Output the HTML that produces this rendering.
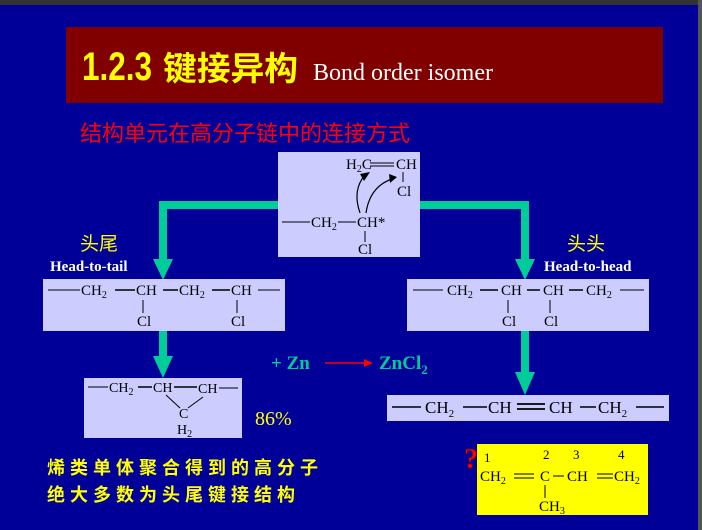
<!DOCTYPE html>
<html><head><meta charset="utf-8"><style>
html,body{margin:0;padding:0;background:#000099;}
svg{display:block}
.s{font-family:"Liberation Serif",serif;font-size:15px;fill:#000}
.sub{font-size:10px}
</style></head><body>
<svg width="702" height="530" viewBox="0 0 702 530" xmlns="http://www.w3.org/2000/svg">
<rect x="0" y="0" width="702" height="530" fill="#000099"/>
<rect x="0" y="0" width="702" height="5" fill="#333"/>
<rect x="698" y="0" width="4" height="530" fill="#555"/>
<!-- title -->
<rect x="66" y="27" width="597" height="76" fill="#800000"/>
<text x="82" y="80" font-family="Liberation Sans,sans-serif" font-size="40" font-weight="bold" fill="#ffff00" textLength="70" lengthAdjust="spacingAndGlyphs">1.2.3</text>
<text x="163" y="80" font-family="'Noto Sans CJK SC',sans-serif" font-size="33" font-weight="bold" fill="#ffff00" textLength="135" lengthAdjust="spacingAndGlyphs">键接异构</text>
<text x="313" y="80" font-family="Liberation Serif,serif" font-size="24" fill="#fff">Bond order isomer</text>
<text x="80" y="141" font-family="'Noto Sans CJK SC',sans-serif" font-size="22" fill="#ff0000">结构单元在高分子链中的连接方式</text>

<!-- green connectors -->
<g fill="#00cc99">
<rect x="159" y="201" width="120" height="8"/>
<rect x="159" y="201" width="8" height="62"/>
<polygon points="153,259 173,259 163,280"/>
<rect x="419" y="201" width="110" height="8"/>
<rect x="521" y="201" width="8" height="62"/>
<polygon points="515,259 535,259 525,280"/>
<rect x="159" y="330" width="8" height="30"/>
<polygon points="153,356 173,356 163,378"/>
<rect x="521" y="330" width="8" height="46"/>
<polygon points="515,372 535,372 525,395"/>
</g>

<!-- top box -->
<rect x="278" y="152" width="142" height="105" fill="#ccccff"/>
<g class="s">
<text x="346" y="169">H<tspan class="sub" dy="3">2</tspan><tspan dy="-3">C</tspan></text>
<line x1="370" y1="163" x2="394" y2="163" stroke="#000"/><line x1="370" y1="166" x2="394" y2="166" stroke="#000"/>
<text x="396" y="169">CH</text>
<line x1="403" y1="172" x2="403" y2="182" stroke="#000"/>
<text x="397" y="196">Cl</text>
<line x1="282" y1="222" x2="310" y2="222" stroke="#000"/>
<text x="311" y="227">CH<tspan class="sub" dy="3">2</tspan></text>
<line x1="338" y1="222" x2="356" y2="222" stroke="#000"/>
<text x="357" y="227">CH*</text>
<line x1="365" y1="231" x2="365" y2="242" stroke="#000"/>
<text x="358" y="254">Cl</text>
</g>
<path d="M360,213 Q352,190 365,175" stroke="#000" fill="none" stroke-width="1.2"/>
<polygon points="360,174 370,172 364,181" fill="#000"/>
<path d="M366,213 Q370,185 395,178" stroke="#000" fill="none" stroke-width="1.2"/>
<polygon points="389,174 397,177 390,183" fill="#000"/>

<!-- labels -->
<text x="80" y="250" font-family="'Noto Sans CJK SC',sans-serif" font-size="19" fill="#ffff00">头尾</text>
<text x="50" y="271" font-family="Liberation Serif,serif" font-size="15" font-weight="bold" fill="#fff">Head-to-tail</text>
<text x="567" y="250" font-family="'Noto Sans CJK SC',sans-serif" font-size="19" fill="#ffff00">头头</text>
<text x="544" y="271" font-family="Liberation Serif,serif" font-size="15" font-weight="bold" fill="#fff">Head-to-head</text>

<!-- left box -->
<rect x="43" y="279" width="242" height="52" fill="#ccccff"/>
<g class="s" stroke-width="1">
<line x1="48" y1="290" x2="80" y2="290" stroke="#000"/>
<text x="81" y="295">CH<tspan class="sub" dy="3">2</tspan></text>
<line x1="115" y1="290" x2="135" y2="290" stroke="#000" stroke-width="1.5"/>
<text x="136" y="295">CH</text>
<line x1="163" y1="290" x2="178" y2="290" stroke="#000" stroke-width="1.5"/>
<text x="179" y="295">CH<tspan class="sub" dy="3">2</tspan></text>
<line x1="212" y1="290" x2="230" y2="290" stroke="#000" stroke-width="1.5"/>
<text x="231" y="295">CH</text>
<line x1="258" y1="290" x2="280" y2="290" stroke="#000"/>
<line x1="143" y1="300" x2="143" y2="313" stroke="#000"/>
<text x="137" y="326">Cl</text>
<line x1="237" y1="300" x2="237" y2="313" stroke="#000"/>
<text x="231" y="326">Cl</text>
</g>

<!-- right box -->
<rect x="407" y="279" width="242" height="52" fill="#ccccff"/>
<g class="s">
<line x1="413" y1="290" x2="443" y2="290" stroke="#000"/>
<text x="447" y="295">CH<tspan class="sub" dy="3">2</tspan></text>
<line x1="480" y1="290" x2="498" y2="290" stroke="#000" stroke-width="1.5"/>
<text x="501" y="295">CH</text>
<line x1="527" y1="290" x2="540" y2="290" stroke="#000" stroke-width="1.5"/>
<text x="543" y="295">CH</text>
<line x1="569" y1="290" x2="583" y2="290" stroke="#000" stroke-width="1.5"/>
<text x="586" y="295">CH<tspan class="sub" dy="3">2</tspan></text>
<line x1="620" y1="290" x2="644" y2="290" stroke="#000"/>
<line x1="508" y1="300" x2="508" y2="313" stroke="#000"/>
<text x="502" y="326">Cl</text>
<line x1="550" y1="300" x2="550" y2="313" stroke="#000"/>
<text x="544" y="326">Cl</text>
</g>

<!-- Zn reaction -->
<text x="271" y="369" font-family="Liberation Serif,serif" font-size="19" font-weight="bold" fill="#00cc99">+ Zn</text>
<line x1="325" y1="363" x2="366" y2="363" stroke="#ff0000" stroke-width="1.5"/>
<polygon points="364,359 373,363 364,367" fill="#ff0000"/>
<text x="379" y="369" font-family="Liberation Serif,serif" font-size="19" font-weight="bold" fill="#00cc99">ZnCl<tspan font-size="13" dy="5">2</tspan></text>

<!-- bottom-left box -->
<rect x="84" y="378" width="158" height="60" fill="#ccccff"/>
<g class="s" font-size="14">
<line x1="88" y1="387" x2="108" y2="387" stroke="#000"/>
<text x="109" y="392" font-size="14">CH<tspan class="sub" dy="3">2</tspan></text>
<line x1="138" y1="387" x2="152" y2="387" stroke="#000" stroke-width="1.5"/>
<text x="153" y="392" font-size="14">CH</text>
<line x1="174" y1="387" x2="197" y2="387" stroke="#000" stroke-width="1.5"/>
<text x="198" y="393" font-size="14">CH</text>
<line x1="219" y1="388" x2="238" y2="388" stroke="#000"/>
<line x1="166" y1="395" x2="180" y2="408" stroke="#000"/>
<line x1="203" y1="397" x2="188" y2="408" stroke="#000"/>
<text x="179" y="418" font-size="14">C</text>
<text x="177" y="434" font-size="14">H<tspan class="sub" dy="3">2</tspan></text>
</g>
<text x="255" y="425" font-family="Liberation Serif,serif" font-size="20" fill="#ffff00">86%</text>

<!-- bottom-right box -->
<rect x="387" y="395" width="282" height="26" fill="#ccccff"/>
<g class="s" font-size="17">
<line x1="392" y1="407" x2="421" y2="407" stroke="#000" stroke-width="1.5"/>
<text x="425" y="413" font-size="17">CH<tspan font-size="11" dy="4">2</tspan></text>
<line x1="463" y1="407" x2="487" y2="407" stroke="#000" stroke-width="1.5"/>
<text x="488" y="413" font-size="17">CH</text>
<line x1="517" y1="404" x2="545" y2="404" stroke="#000" stroke-width="1.8"/>
<line x1="517" y1="409" x2="545" y2="409" stroke="#000" stroke-width="1.8"/>
<text x="549" y="413" font-size="17">CH</text>
<line x1="580" y1="407" x2="596" y2="407" stroke="#000" stroke-width="1.5"/>
<text x="598" y="413" font-size="17">CH<tspan font-size="11" dy="4">2</tspan></text>
<line x1="636" y1="407" x2="664" y2="407" stroke="#000" stroke-width="1.5"/>
</g>

<!-- yellow box -->
<rect x="477" y="444" width="171" height="71" fill="#ffff00"/>
<g class="s" font-size="14">
<text x="484" y="462" font-size="13">1</text>
<text x="543" y="459" font-size="13">2</text>
<text x="573" y="459" font-size="13">3</text>
<text x="618" y="459" font-size="13">4</text>
<text x="480" y="481" font-size="15">CH<tspan class="sub" dy="3">2</tspan></text>
<line x1="514" y1="474" x2="534" y2="474" stroke="#000"/><line x1="514" y1="478" x2="534" y2="478" stroke="#000"/>
<text x="540" y="481" font-size="15">C</text>
<line x1="553" y1="476" x2="564" y2="476" stroke="#000"/>
<text x="567" y="481" font-size="15">CH</text>
<line x1="597" y1="474" x2="613" y2="474" stroke="#000"/><line x1="597" y1="478" x2="613" y2="478" stroke="#000"/>
<text x="614" y="481" font-size="15">CH<tspan class="sub" dy="3">2</tspan></text>
<line x1="545" y1="485" x2="545" y2="498" stroke="#000"/>
<text x="539" y="511" font-size="15">CH<tspan class="sub" dy="3">3</tspan></text>
</g>
<text x="464" y="468" font-family="Liberation Serif,serif" font-size="28" font-weight="bold" fill="#ff0000" stroke="#660000" stroke-width="0.5">?</text>

<!-- bottom-left chinese -->
<text x="47" y="474" font-family="'Noto Sans CJK SC',sans-serif" font-size="18" font-weight="bold" fill="#ffff00" letter-spacing="5">烯类单体聚合得到的高分子</text>
<text x="47" y="501" font-family="'Noto Sans CJK SC',sans-serif" font-size="18" font-weight="bold" fill="#ffff00" letter-spacing="5">绝大多数为头尾键接结构</text>
</svg>
</body></html>
